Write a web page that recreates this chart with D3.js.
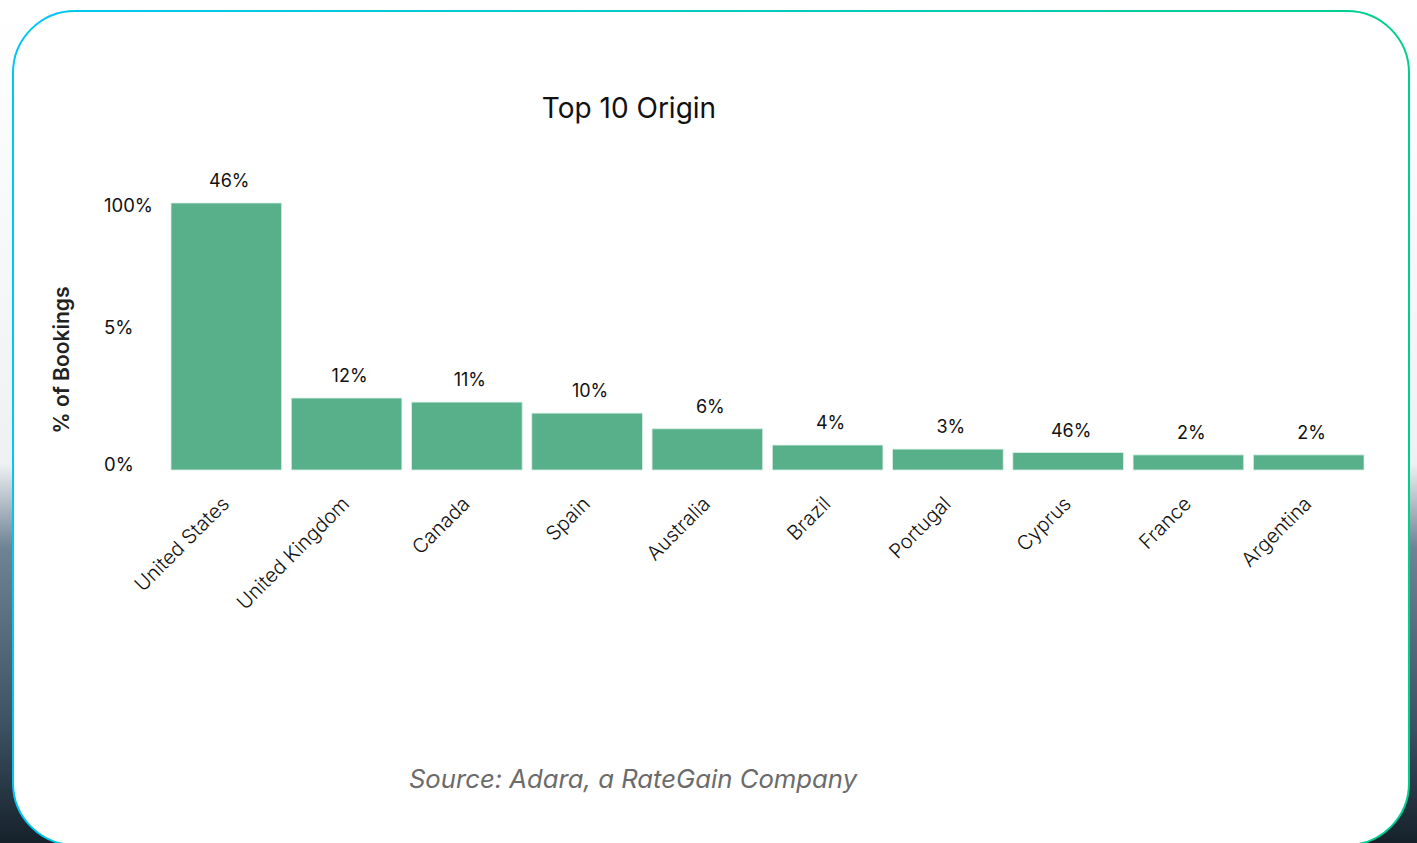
<!DOCTYPE html>
<html>
<head>
<meta charset="utf-8">
<script src="https://cdn.jsdelivr.net/npm/d3@7"></script>
<style>
  html, body { margin: 0; padding: 0; }
  body { width: 1417px; height: 843px; overflow: hidden; }
  text { font-family: Inter, "Noto Sans", sans-serif; }
</style>
</head>
<body>
<svg id="chart" width="1417" height="843"></svg>
<script>
// data
var countries = ["United States", "United Kingdom", "Canada", "Spain", "Australia",
                 "Brazil", "Portugal", "Cyprus", "France", "Argentina"];
var barValues = [46, 12.4, 11.7, 9.8, 7.1, 4.3, 3.6, 3.0, 2.6, 2.6];
var barLabels = ["46%", "12%", "11%", "10%", "6%", "4%", "3%", "46%", "2%", "2%"];
var yTickValues = [0.9, 24.6, 45.5];
var yTickLabels = ["0%", "5%", "100%"];

var W = 1417, H = 843;
var svg = d3.select("#chart");
var defs = svg.append("defs");

// backdrop behind the card
var bg = defs.append("linearGradient").attr("id", "bg")
  .attr("x1", 0).attr("y1", 0).attr("x2", 0).attr("y2", 1);
bg.append("stop").attr("offset", "0%").attr("stop-color", "#ffffff");
bg.append("stop").attr("offset", "55%").attr("stop-color", "#eef1f3");
bg.append("stop").attr("offset", "65%").attr("stop-color", "#6e8394");
bg.append("stop").attr("offset", "85%").attr("stop-color", "#3f5566");
bg.append("stop").attr("offset", "100%").attr("stop-color", "#16212b");
svg.append("rect").attr("width", W).attr("height", H).attr("fill", "url(#bg)");

var border = defs.append("linearGradient").attr("id", "border")
  .attr("x1", 0).attr("y1", 0).attr("x2", 1).attr("y2", 0);
border.append("stop").attr("offset", "0%").attr("stop-color", "#00c6f4");
border.append("stop").attr("offset", "100%").attr("stop-color", "#00cf8c");

svg.append("rect")
  .attr("x", 13).attr("y", 11)
  .attr("width", 1396).attr("height", 834)
  .attr("rx", 62).attr("ry", 62)
  .attr("fill", "#ffffff")
  .attr("stroke", "url(#border)")
  .attr("stroke-width", 2);

// scales
var x = d3.scaleBand()
  .domain(countries)
  .range([171, 1364])
  .paddingInner(0.08)
  .paddingOuter(0);

var y = d3.scaleLinear()
  .domain([0, 46])
  .range([470, 203]);

// title
svg.append("text")
  .attr("x", 629).attr("y", 118)
  .attr("text-anchor", "middle")
  .attr("font-size", 28)
  .attr("fill", "#111")
  .text("Top 10 Origin");

// y axis (labels only)
var yAxis = svg.append("g")
  .attr("transform", "translate(104,0)")
  .call(d3.axisLeft(y).tickValues(yTickValues).tickSize(0)
    .tickFormat(function(d, i) { return yTickLabels[i]; }));
yAxis.select(".domain").remove();
yAxis.selectAll("text")
  .attr("x", 0)
  .attr("text-anchor", "start")
  .attr("font-family", "Inter, sans-serif")
  .attr("font-size", 18.5)
  .attr("fill", "#111");

svg.append("text")
  .attr("transform", "translate(69,360) rotate(-90)")
  .attr("text-anchor", "middle")
  .attr("font-size", 21)
  .attr("font-weight", 600)
  .attr("fill", "#222")
  .text("% of Bookings");

// bars
svg.selectAll("rect.bar")
  .data(countries)
  .enter().append("rect")
  .attr("class", "bar")
  .attr("x", function(d) { return x(d); })
  .attr("y", function(d, i) { return y(barValues[i]); })
  .attr("width", x.bandwidth())
  .attr("height", function(d, i) { return y(0) - y(barValues[i]); })
  .attr("fill", "#57b08a")
  .attr("stroke", "#d9efe5")
  .attr("stroke-width", 0.8);

// value labels
svg.selectAll("text.val")
  .data(countries)
  .enter().append("text")
  .attr("class", "val")
  .attr("x", function(d) { return x(d) + x.bandwidth() / 2 + 3; })
  .attr("y", function(d, i) { return y(barValues[i]) - 16; })
  .attr("text-anchor", "middle")
  .attr("font-size", 18)
  .attr("fill", "#111")
  .text(function(d, i) { return barLabels[i]; });

// x axis labels
var xAxis = svg.append("g")
  .attr("transform", "translate(0,470)")
  .call(d3.axisBottom(x).tickSize(0));
xAxis.select(".domain").remove();
xAxis.selectAll("text")
  .attr("font-family", "Inter, sans-serif")
  .attr("font-size", 20)
  .attr("font-weight", 300)
  .attr("fill", "#111")
  .attr("text-anchor", "end")
  .attr("dy", 0)
  .attr("transform", "translate(2,33) rotate(-45)");

// source
svg.append("text")
  .attr("x", 633).attr("y", 788)
  .attr("text-anchor", "middle")
  .attr("font-family", "'Open Sans', sans-serif")
  .attr("font-style", "italic")
  .attr("font-size", 25.7)
  .attr("fill", "#6b6b6b")
  .text("Source: Adara, a RateGain Company");
</script>
</body>
</html>
